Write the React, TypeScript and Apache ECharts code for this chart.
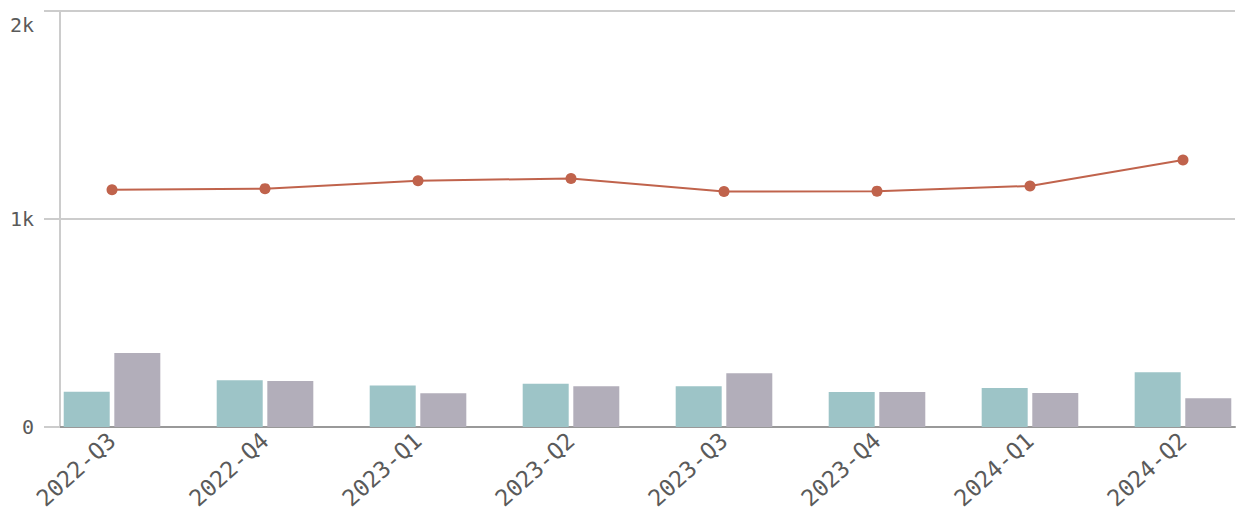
import React, { useEffect, useRef } from "react";
import * as echarts from "echarts";

const categories = ["2022-Q3", "2022-Q4", "2023-Q1", "2023-Q2", "2023-Q3", "2023-Q4", "2024-Q1", "2024-Q2"];
const tealValues = [170, 225, 200, 208, 196, 168, 188, 263];
const purpleValues = [356, 221, 162, 196, 258, 168, 163, 138];
const lineValues = [1141, 1146, 1184, 1195, 1132, 1134, 1159, 1284];
const yTicks = [0, 1000, 2000];
const yTickLabels = ["0", "1k", "2k"];

export default function App() {
  const ref = useRef<HTMLDivElement>(null);
  useEffect(() => {
    document.body.style.margin = "0";
    if (!ref.current) return;
    const chart = echarts.init(ref.current, null, { renderer: "svg" });
    const pts = (arr: number[]) => arr.map((v, i) => [i, v]);
    chart.setOption({
      animation: false,
      grid: { left: 60, right: 4, top: 11, bottom: 96, containLabel: false },
      xAxis: {
        type: "value",
        min: -0.34,
        max: 7.34,
        splitLine: { show: false },
        axisTick: { show: false },
        axisLine: { show: true, onZero: false, lineStyle: { color: "#999999", width: 2 } },
        axisLabel: {
          customValues: categories.map((_, i) => i),
          formatter: (v: number) => categories[Math.round(v)] ?? "",
          rotate: 42,
          margin: 10,
          fontFamily: "DejaVu Sans Mono",
          fontSize: 23,
          color: "#5a5a5a",
        },
      },
      yAxis: {
        type: "value",
        min: 0,
        max: 2000,
        interval: 1000,
        axisLine: { show: true, onZero: false, lineStyle: { color: "#cccccc", width: 2 } },
        axisTick: { show: true, length: 16, lineStyle: { color: "#cccccc", width: 2 } },
        splitLine: { show: true, lineStyle: { color: "#cccccc", width: 2 } },
        axisLabel: {
          margin: 26,
          fontFamily: "DejaVu Sans Mono",
          fontSize: 20,
          color: "#5a5a5a",
          formatter: (v: number) => {
            const idx = yTicks.indexOf(v);
            if (idx < 0) return "";
            return idx === yTicks.length - 1 ? "{t|" + yTickLabels[idx] + "}" : yTickLabels[idx];
          },
          rich: {
            t: {
              fontFamily: "DejaVu Sans Mono",
              fontSize: 20,
              color: "#5a5a5a",
              padding: [28, 0, 0, 0],
            },
          },
        },
      },
      series: [
        {
          type: "bar",
          data: pts(tealValues),
          barWidth: 46,
          barGap: "10%",
          itemStyle: { color: "#9dc4c7" },
        },
        {
          type: "bar",
          data: pts(purpleValues),
          barWidth: 46,
          barGap: "10%",
          itemStyle: { color: "#b2aeba" },
        },
        {
          type: "line",
          data: pts(lineValues),
          symbol: "circle",
          symbolSize: 11,
          lineStyle: { color: "#c0634c", width: 2 },
          itemStyle: { color: "#c0634c" },
          z: 5,
        },
      ],
    });
    return () => chart.dispose();
  }, []);
  return <div ref={ref} style={{ width: 1239, height: 523 }} />;
}
